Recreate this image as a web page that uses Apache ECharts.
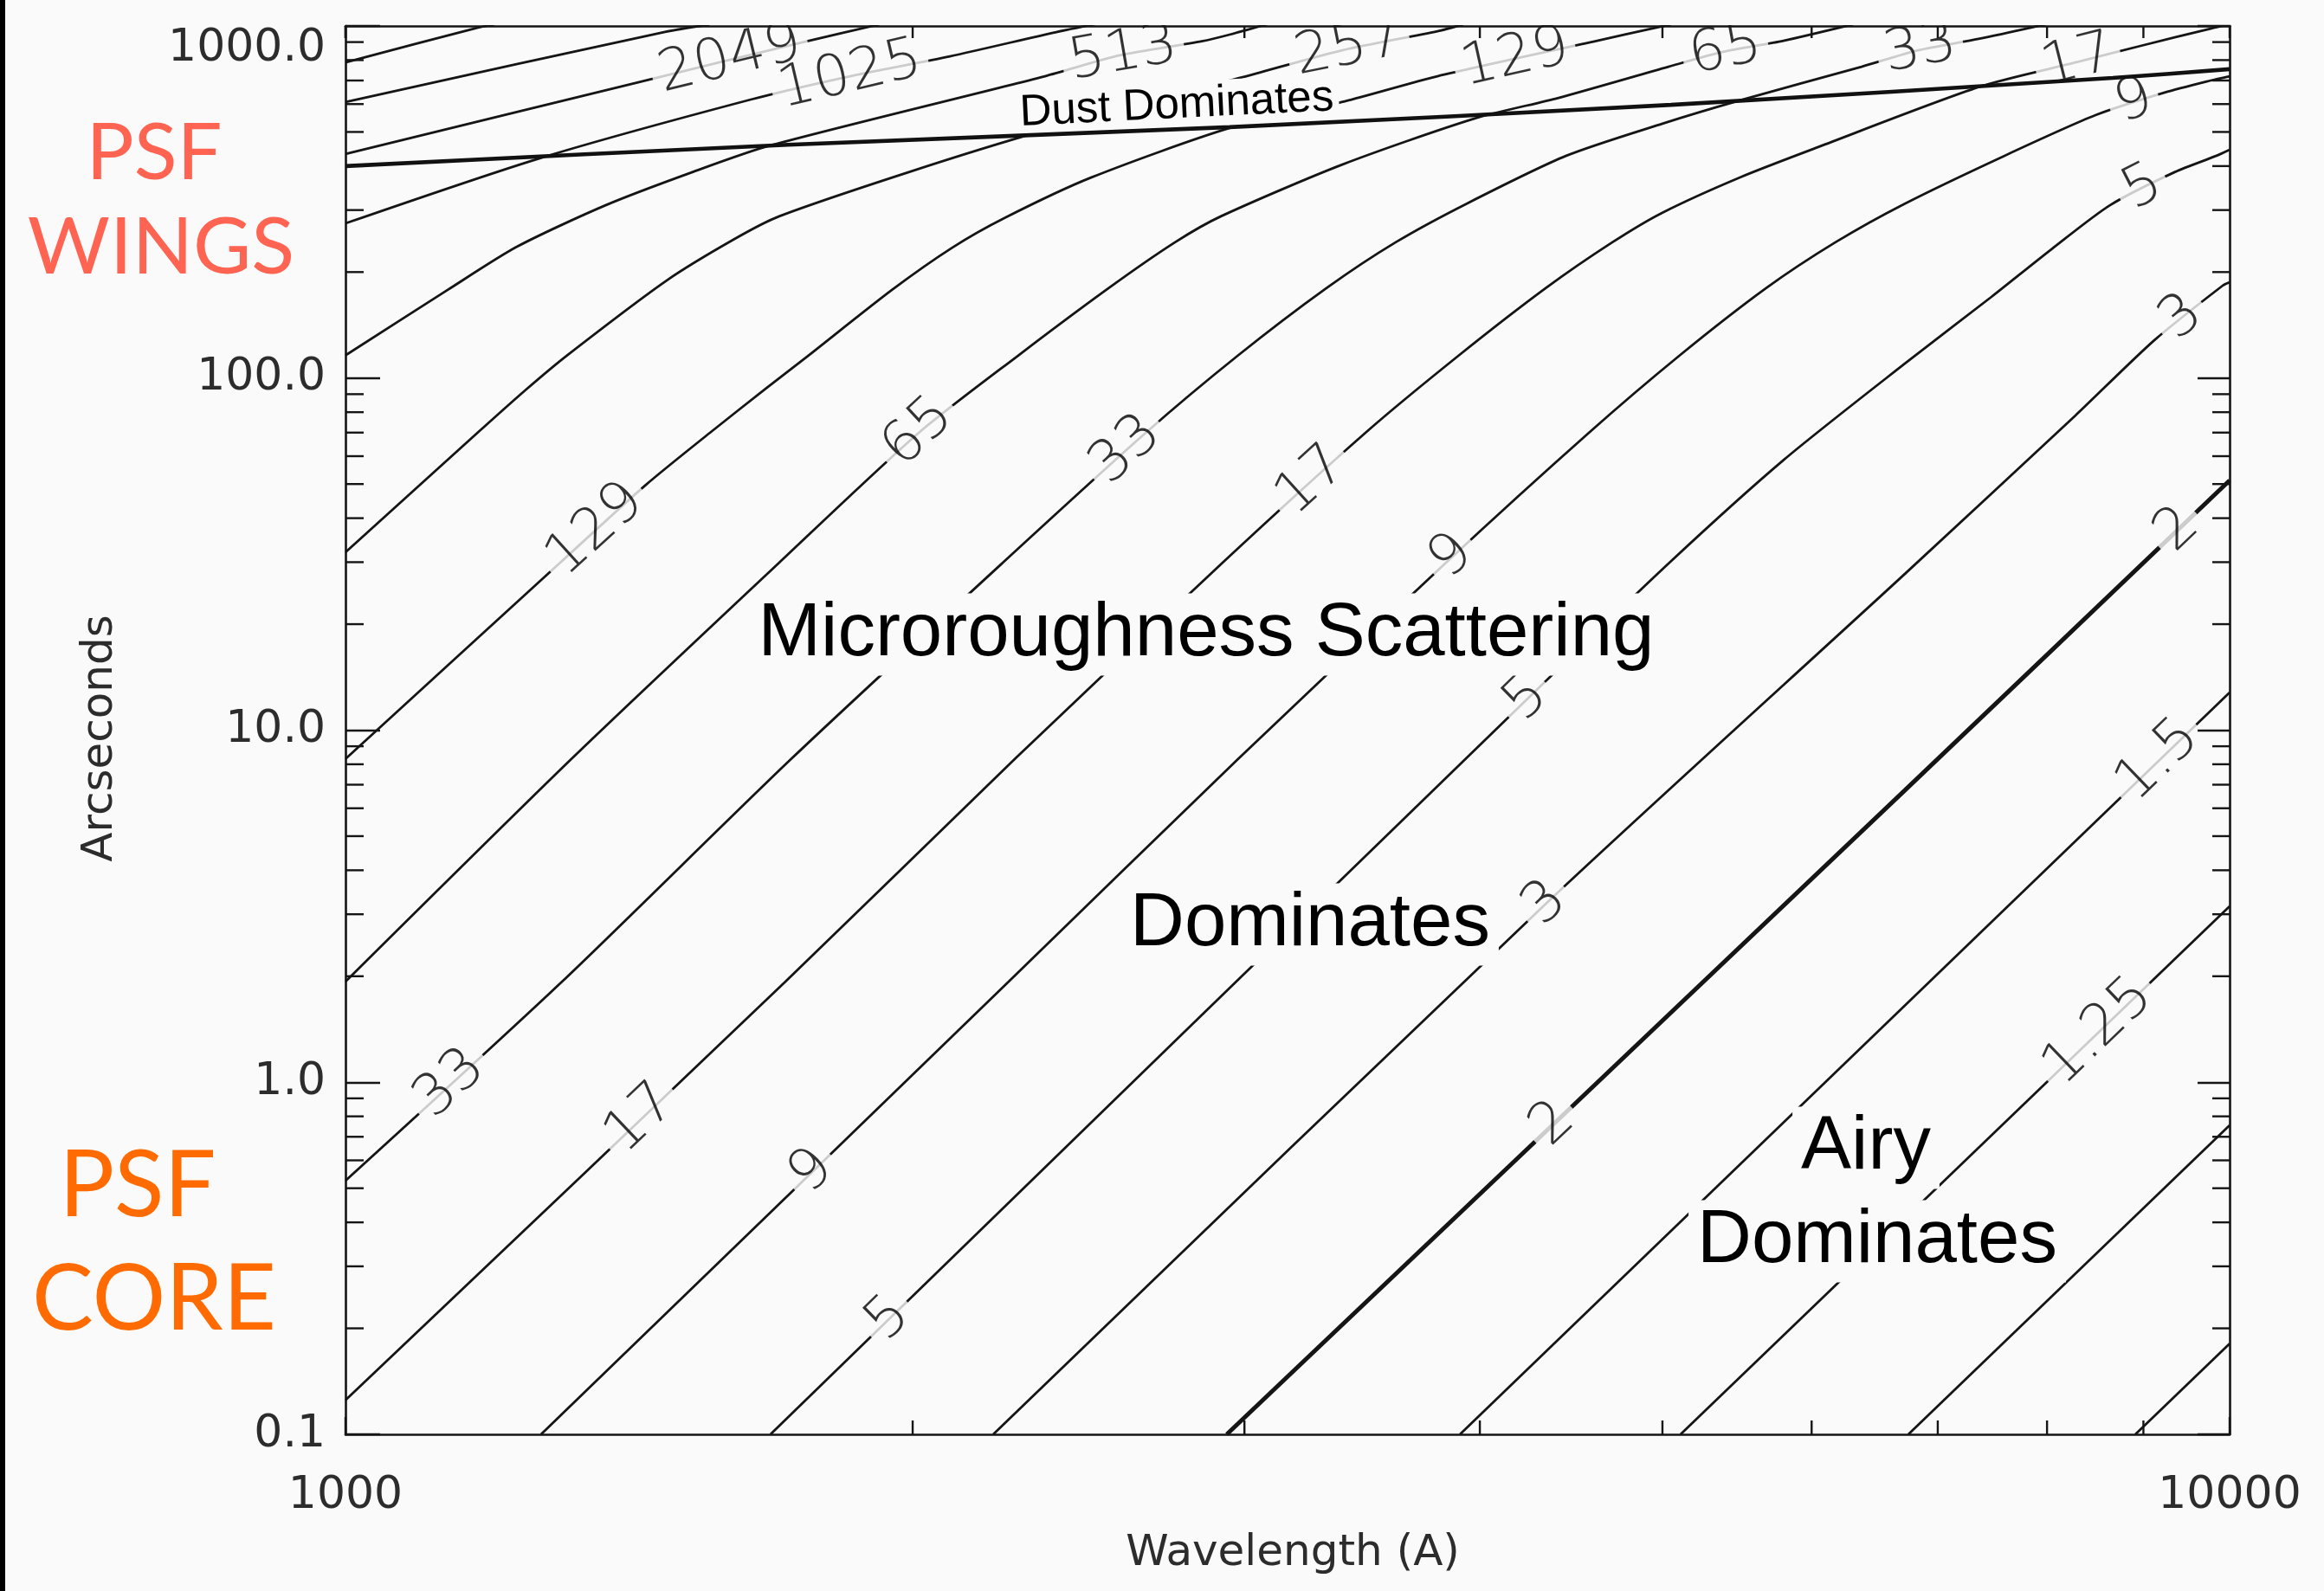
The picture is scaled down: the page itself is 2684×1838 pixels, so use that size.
<!DOCTYPE html>
<html lang="en">
<head>
<meta charset="utf-8">
<title>PSF scattering regimes</title>
<script src="https://cdn.jsdelivr.net/npm/echarts@6.0.0/dist/echarts.min.js"></script>
<style>
  html, body { margin: 0; padding: 0; background: #fafafa; }
  #chart { width: 2684px; height: 1838px; }
</style>
</head>
<body>
<div id="chart"></div>
<script>
// Contours of the PSF ratio over wavelength (Å) and field angle (arcsec).
// Each contour is a list of [wavelength, arcseconds] points.
const c1_0625 = [[8912, 0.1], [10000, 0.181]];
const c1_125 = [[6753, 0.1], [10000, 0.755]];
const c1_25 = [[5112, 0.1], [10000, 3.16]];
const c1_5 = [[3904, 0.1], [10000, 12.8]];
const c2 = [[2936, 0.1], [6725, 6.75], [10000, 51.2]];
const c3 = [[2207, 0.1], [4335, 3.21], [6725, 27.8], [8283, 78.3], [9120, 128], [9915, 183], [10000, 187]];
const c5 = [[1681, 0.1], [4248, 12.4], [5043, 29.9], [5800, 58.6], [6725, 110], [7474, 170], [8050, 233],
            [8643, 310], [9355, 385], [9842, 428], [10000, 445]];
const c9 = [[1270, 0.1], [2249, 1.93], [2977, 8.28], [3838, 29.9], [4570, 69.9], [5107, 116], [5675, 180],
            [6177, 243], [6725, 313], [7596, 428], [8488, 558], [9237, 647], [9770, 700], [10000, 720]];
const c17 = [[1000, 0.125], [1712, 1.93], [2266, 8.28], [2921, 29.9], [3478, 69.9], [3899, 116], [4335, 180],
             [4703, 243], [5000, 295], [5500, 372], [6048, 453], [7374, 673], [8310, 791], [8970, 878],
             [9770, 983], [10000, 1010]];
const c33 = [[1000, 0.525], [1303, 1.93], [1724, 8.28], [2233, 29.9], [2659, 69.9], [2977, 116], [3316, 180],
             [3609, 243], [3937, 313], [4446, 428], [5000, 528], [5498, 615], [6378, 766], [6832, 853],
             [7358, 919], [7882, 995], [8100, 1030]];
const c65 = [[1000, 1.93], [1318, 8.28], [1699, 29.9], [2015, 69.9], [2276, 116], [2541, 180], [2756, 243],
             [2915, 288], [3381, 404], [3975, 546], [4404, 625], [5037, 766], [5384, 844], [5797, 908], [6311, 1011]];
const c129 = [[1000, 8.28], [1300, 29.9], [1444, 49.8], [1561, 69.9], [1672, 93.5], [1754, 114], [1950, 178],
              [2100, 235], [2238, 285], [2487, 371], [2946, 513], [3391, 611], [3798, 720], [4595, 903],
              [4963, 989], [5053, 1011]];
const c257 = [[1000, 32.0], [1175, 69.9], [1247, 92.8], [1311, 116], [1480, 189], [1606, 247], [1699, 288],
              [1992, 385], [2334, 500], [3041, 732], [3381, 853], [3798, 966], [3920, 1011]];
const c513 = [[1000, 116], [1133, 178], [1233, 236], [1375, 310], [1529, 385], [1681, 458], [2351, 720],
              [2576, 825], [2848, 905], [2946, 945], [3100, 1020]];
const c1025 = [[1000, 275], [1268, 421], [1641, 618], [1853, 720], [2093, 820], [2384, 961], [2500, 1012]];
const c2049 = [[1000, 433], [1430, 692], [1754, 903], [1920, 1010]];
const c4097 = [[1000, 608], [1476, 961], [1560, 1010]];
const c8193 = [[1000, 788], [1170, 983], [1200, 1010]];

// Boundary above which dust scattering dominates.
const dustBoundary = [[1000, 400], [1717, 460], [2946, 516], [5053, 597], [8670, 712], [10000, 754]];

const contourLevels = ['1.0625', '1.125', '1.25', '1.5', '2', '3', '5', '9', '17', '33', '65', '129',
                       '257', '513', '1025', '2049', '4097', '8193'];
const contourPoints = [c1_0625, c1_125, c1_25, c1_5, c2, c3, c5, c9, c17, c33, c65, c129,
                       c257, c513, c1025, c2049, c4097, c8193];

// In-line contour labels: level and the wavelength where each label sits on its contour.
const labelLevels = ['2049', '1025', '513', '257', '129', '65', '33', '17',
                     '9', '5', '3', '2', '1.5', '1.25',
                     '129', '65', '33', '17', '9', '5', '3', '2',
                     '33', '17', '9', '5'];
const labelWavelengths = [1600, 1853, 2587, 3409, 4177, 5401, 6853, 8310,
                          8900, 8995, 9434, 9384, 9168, 8522,
                          1358, 2015, 2597, 3258, 3867, 4236, 4335, 4375,
                          1137, 1435, 1769, 1943];

// Minor tick values of both log axes.
const wavelengthMinorTicks = [2000, 3000, 4000, 5000, 6000, 7000, 8000, 9000];
const arcsecMinorTicks = [0.2, 0.3, 0.4, 0.5, 0.6, 0.7, 0.8, 0.9,
                          2, 3, 4, 5, 6, 7, 8, 9,
                          20, 30, 40, 50, 60, 70, 80, 90,
                          200, 300, 400, 500, 600, 700, 800, 900];

const BG = '#fafafa';
const INK = '#151515';
const TEXT = '#2c2c2c';
const GRID = { left: 399, top: 30, width: 2176, height: 1627 };

const chart = echarts.init(document.getElementById('chart'), null, { renderer: 'canvas', width: 2684, height: 1838 });

const contourSeries = contourPoints.map((pts, i) => ({
  type: 'line',
  name: contourLevels[i],
  data: pts,
  showSymbol: false,
  symbol: 'none',
  smooth: 0.25,
  silent: true,
  z: 2,
  lineStyle: { color: INK, width: contourLevels[i] === '2' ? 5 : 2.8 }
}));

// drawn above the text masks so it stays visible under its own caption
const dustSeries = {
  type: 'line', name: 'dust', data: dustBoundary, showSymbol: false, symbol: 'none',
  smooth: 0.25, silent: true, z: 22, lineStyle: { color: '#111', width: 4.6 }
};

const tickStyle = { stroke: INK, lineWidth: 2.4 };
const xMinorTickSeries = {
  type: 'custom', coordinateSystem: 'cartesian2d', silent: true, z: 30,
  data: wavelengthMinorTicks.map(v => [v, 1]),
  renderItem: (params, api) => {
    const cs = params.coordSys;
    const x = api.coord([api.value(0), 1])[0];
    const yb = cs.y + cs.height, yt = cs.y;
    return { type: 'group', children: [
      { type: 'line', shape: { x1: x, y1: yb, x2: x, y2: yb - 16 }, style: tickStyle },
      { type: 'line', shape: { x1: x, y1: yt, x2: x, y2: yt + 14 }, style: tickStyle }
    ] };
  }
};
const yMinorTickSeries = {
  type: 'custom', coordinateSystem: 'cartesian2d', silent: true, z: 30,
  data: arcsecMinorTicks.map(v => [1000, v]),
  renderItem: (params, api) => {
    const cs = params.coordSys;
    const y = api.coord([1000, api.value(1)])[1];
    const xl = cs.x, xr = cs.x + cs.width;
    return { type: 'group', children: [
      { type: 'line', shape: { x1: xl, y1: y, x2: xl + 21, y2: y }, style: tickStyle },
      { type: 'line', shape: { x1: xr, y1: y, x2: xr - 20, y2: y }, style: tickStyle }
    ] };
  }
};

const axisLineStyle = { color: INK, width: 2.6 };
const axisTickStyle = { color: INK, width: 2.4 };
const tickFont = { fontFamily: 'DejaVu Sans', fontSize: 52, color: TEXT };

function textEl(text, x, y, size, opts) {
  const o = opts || {};
  return {
    type: 'text', x: x, y: y, rotation: o.rotation || 0, z: o.z || 20, silent: true,
    style: {
      text: text, fill: o.color || '#000', fontSize: size,
      fontFamily: o.family || 'Liberation Sans', fontWeight: o.weight || 'normal',
      align: 'center', verticalAlign: 'middle',
      backgroundColor: o.mask ? BG : null, padding: o.mask ? o.pad || [4, 10] : 0
    }
  };
}

const option = {
  animation: false,
  backgroundColor: BG,
  grid: Object.assign({ containLabel: false, outerBoundsMode: 'none', show: false }, GRID),
  xAxis: [
    {
      type: 'log', logBase: 10, min: 1000, max: 10000, position: 'bottom', z: 30,
      axisLine: { show: true, onZero: false, lineStyle: axisLineStyle },
      axisTick: { show: true, inside: true, length: 20, lineStyle: axisTickStyle },
      minorTick: { show: false }, splitLine: { show: false }, minorSplitLine: { show: false },
      axisLabel: Object.assign({ show: true, margin: 45, showMinLabel: true, showMaxLabel: true,
        formatter: v => String(Math.round(v)) }, tickFont)
    },
    {
      type: 'log', logBase: 10, min: 1000, max: 10000, position: 'top', z: 30,
      axisLine: { show: true, onZero: false, lineStyle: axisLineStyle },
      axisTick: { show: true, inside: true, length: 14, lineStyle: axisTickStyle },
      axisLabel: { show: false }, splitLine: { show: false }
    }
  ],
  yAxis: [
    {
      type: 'log', logBase: 10, min: 0.1, max: 1000, position: 'left', z: 30,
      axisLine: { show: true, onZero: false, lineStyle: axisLineStyle },
      axisTick: { show: true, inside: true, length: 40, lineStyle: axisTickStyle },
      minorTick: { show: false }, splitLine: { show: false }, minorSplitLine: { show: false },
      axisLabel: Object.assign({ show: true, margin: 23, showMinLabel: true, showMaxLabel: true,
        verticalAlignMaxLabel: 'top',
        formatter: v => Number(v.toPrecision(3)).toFixed(1) }, tickFont)
    },
    {
      type: 'log', logBase: 10, min: 0.1, max: 1000, position: 'right', z: 30,
      axisLine: { show: true, onZero: false, lineStyle: axisLineStyle },
      axisTick: { show: true, inside: true, length: 37, lineStyle: axisTickStyle },
      axisLabel: { show: false }, splitLine: { show: false }
    }
  ],
  series: contourSeries.concat([dustSeries, xMinorTickSeries, yMinorTickSeries]),
  graphic: { elements: [
    // keeps in-line labels from spilling over the top frame
    { type: 'rect', shape: { x: GRID.left - 2, y: 0, width: GRID.width + 4, height: GRID.top - 1 },
      style: { fill: BG }, z: 25, silent: true },
    { type: 'rect', shape: { x: 0, y: 0, width: 6, height: 1838 }, style: { fill: '#000' }, z: 50, silent: true },
    textEl('Microroughness Scattering', 1393, 733, 87, { mask: true }),
    textEl('Dominates', 1513, 1068, 87, { mask: true }),
    textEl('Airy', 2155, 1326, 87, { mask: true }),
    textEl('Dominates', 2168, 1434, 87, { mask: true }),
    textEl('Dust Dominates', 1359, 122, 51, { mask: true, rotation: 0.049, pad: [2, 6] }),
    textEl('PSF', 178, 177, 92, { color: '#ff6452', family: 'Lato' }),
    textEl('WINGS', 186, 286, 92, { color: '#ff6452', family: 'Lato' }),
    textEl('PSF', 159, 1371, 106, { color: '#ff6b00', family: 'Lato' }),
    textEl('CORE', 178, 1502, 106, { color: '#ff6b00', family: 'Lato' }),
    textEl('Arcseconds', 116, 853, 50, { color: TEXT, family: 'DejaVu Sans', rotation: Math.PI / 2 }),
    textEl('Wavelength (A)', 1493, 1795, 50, { color: TEXT, family: 'DejaVu Sans' })
  ] }
};

chart.setOption(option);

// Place each contour label on its line and turn it along the local direction.
const levelLookup = {};
contourLevels.forEach((lvl, i) => { levelLookup[lvl] = contourPoints[i]; });

function locate(pts, wave) {
  for (let i = 0; i < pts.length - 1; i++) {
    const a = pts[i], b = pts[i + 1];
    if (wave >= a[0] && wave <= b[0]) {
      const t = Math.log(wave / a[0]) / Math.log(b[0] / a[0]);
      const val = Math.exp(Math.log(a[1]) + t * Math.log(b[1] / a[1]));
      return { value: [wave, val], seg: [a, b] };
    }
  }
  return null;
}

const labelData = [];
labelLevels.forEach((lvl, i) => {
  const hit = locate(levelLookup[lvl], labelWavelengths[i]);
  if (!hit) return;
  const p1 = chart.convertToPixel({ gridIndex: 0 }, hit.seg[0]);
  const p2 = chart.convertToPixel({ gridIndex: 0 }, hit.seg[1]);
  const angle = Math.atan2(p1[1] - p2[1], p2[0] - p1[0]) * 180 / Math.PI;
  labelData.push({ name: lvl, value: hit.value, label: { rotate: angle } });
});

const labelSeries = {
  type: 'scatter', name: 'contour labels', silent: true, z: 10,
  symbolSize: 1, itemStyle: { color: 'rgba(0,0,0,0)' },
  data: labelData,
  label: {
    show: true, position: 'inside', formatter: '{b}',
    fontFamily: 'DejaVu Sans', fontWeight: 200, fontSize: 66, color: '#000',
    backgroundColor: BG, padding: [0, 8], lineHeight: 54
  }
};

chart.setOption({ series: option.series.concat([labelSeries]) });
</script>
</body>
</html>
